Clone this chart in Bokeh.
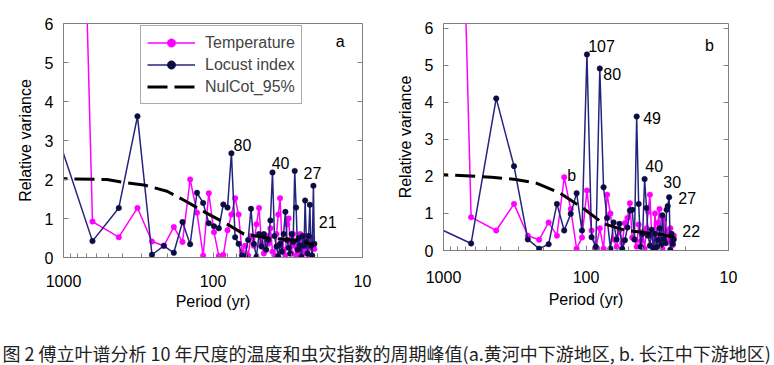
from bokeh.plotting import figure
from bokeh.models import (Range1d, LinearAxis, FixedTicker, NumeralTickFormatter,
                          Legend, LegendItem, ColumnDataSource)
from bokeh.layouts import row, column
from bokeh.embed import file_html
from bokeh.resources import INLINE
from bokeh.core.properties import value

# ---------------- data ----------------
# Fourier periods (yr) of harmonics k = 1 .. 61
period = [1280, 640, 426.7, 320, 256, 213.3, 182.9, 160, 142.2, 128, 116.4, 106.7,
          98.5, 91.4, 85.3, 80, 75.3, 71.1, 67.4, 64, 61.0, 58.2, 55.7, 53.3, 51.2,
          49.2, 47.4, 45.7, 44.1, 42.7, 41.3, 40, 38.8, 37.6, 36.6, 35.6, 34.6, 33.7,
          32.8, 32, 31.2, 30.5, 29.8, 29.1, 28.4, 27.8, 27.2, 26.7, 26.1, 25.6, 25.1,
          24.6, 24.2, 23.7, 23.3, 22.9, 22.5, 22.1, 21.7, 21.3, 21.0]

# panel a (Yellow River)
temp_a = [45.0, 0.92, 0.52, 1.27, 0.41, 0.30, 0.78, 0.40, 2.00, 1.15, 0.05, 1.65,
          0.65, 0.04, 0.07, 0.70, 1.10, 1.52, 1.10, 0.15, 0.30, 0.05, 0.55, 0.30,
          0.85, 1.27, 0.35, 0.10, 0.55, 0.35, 0.75, 0.15, 0.05, 0.60, 1.10, 1.52,
          0.45, 0.20, 0.05, 0.85, 1.00, 0.40, 0.10, 0.60, 0.30, 0.05, 0.45, 0.15,
          0.60, 0.35, 0.10, 0.50, 0.20, 0.55, 0.30, 0.05, 0.45, 0.25, 0.50, 0.30, 0.22]
locust_a = [3.90, 0.42, 1.27, 3.62, 0.07, 0.30, 0.12, 0.91, 0.34, 1.66, 1.40, 0.88,
            0.80, 0.75, 1.36, 1.28, 2.67, 0.52, 0.35, 0.05, 0.03, 0.45, 1.25, 0.35,
            0.02, 0.60, 0.28, 0.60, 0.20, 0.45, 0.95, 2.18, 0.55, 0.28, 0.03, 0.35,
            0.15, 0.60, 1.17, 0.45, 0.25, 0.10, 0.60, 0.40, 2.22, 1.28, 0.20, 0.50,
            0.30, 0.02, 0.55, 0.30, 1.46, 0.40, 0.10, 0.55, 1.35, 0.30, 0.05, 1.84, 0.35]
nul_period_a = [1280, 1000, 512, 400, 283, 203, 153, 112, 80, 62, 43, 29, 21]
nul_a = [2.02, 2.02, 2.00, 1.93, 1.85, 1.70, 1.45, 1.15, 0.85, 0.60, 0.50, 0.45, 0.33]

# panel b (Yangtze River), harmonics k = 1 .. 53
temp_b = [45.0, 0.90, 0.54, 1.26, 0.40, 0.29, 0.76, 0.40, 1.98, 1.12, 0.05, 0.35,
          1.62, 0.54, 0.05, 0.60, 0.05, 1.51, 1.00, 0.30, 0.10, 0.55, 0.20, 0.74,
          0.88, 1.28, 0.35, 0.30, 0.10, 0.70, 0.25, 0.50, 0.05, 0.60, 1.05, 1.51,
          0.40, 0.15, 1.00, 0.30, 0.75, 1.12, 0.35, 0.05, 0.85, 0.50, 0.20, 0.54,
          0.25, 0.60, 0.35, 0.15, 0.40]
locust_b = [0.73, 0.19, 4.11, 2.28, 0.30, 0.05, 0.17, 1.26, 0.54, 0.99, 1.55, 0.54,
            5.30, 0.36, 0.10, 4.92, 1.71, 0.88, 0.05, 0.76, 0.30, 0.72, 0.05, 0.28,
            0.62, 1.08, 1.10, 0.30, 3.62, 1.26, 0.10, 0.45, 1.93, 1.15, 0.40, 0.13,
            0.56, 0.05, 0.45, 0.09, 0.28, 0.60, 0.15, 0.95, 0.30, 0.20, 1.10, 1.20,
            1.44, 0.02, 0.45, 0.18, 0.30]
nul_period_b = [1280, 1000, 460, 312, 223, 152, 103, 75, 52, 38, 30, 24]
nul_b = [2.07, 2.05, 1.98, 1.92, 1.82, 1.55, 1.12, 0.72, 0.54, 0.48, 0.44, 0.36]

# peak labels (text, period, value)
lab_a_text = ["80", "40", "27", "21", "a"]
lab_a_period = [72.8, 40.5, 24.8, 19.6, 15.1]
lab_a_value = [2.89, 2.43, 2.17, 0.90, 5.53]
lab_b_text = ["107", "80", "49", "40", "30", "27", "22", "b", "b"]
lab_b_period = [96.5, 75.7, 39.7, 38.4, 28.7, 22.5, 21.1, 135.5, 14.6]
lab_b_value = [5.53, 4.78, 3.59, 2.29, 1.86, 1.43, 0.54, 2.02, 5.53]

series_names = ["Temperature", "Locust index", "NulCot_95%"]
x_ticks = [10, 100, 1000]
x_minor = [20, 30, 40, 50, 60, 70, 80, 90, 200, 300, 400, 500, 600, 700, 800, 900]
y_ticks = [0, 1, 2, 3, 4, 5, 6]
caption = "图 2  傅立叶谱分析 10 年尺度的温度和虫灾指数的周期峰值(a.黄河中下游地区, b. 长江中下游地区)"

FONT = "Liberation Sans"
GRAY = "#808080"
PINK = "#ff00ff"
NAVY_LINE = "#24247e"
NAVY_MARK = "#0c0c45"


def panel(n, temp, locust, nul_p, nul_v, lt, lp, lv, fw, fh, ytop, bl, br, bt, bb,
          xstand, xlstand, with_legend):
    p = figure(x_axis_type="log", x_range=Range1d(1000, 10),
               y_range=Range1d(0, ytop),
               frame_width=fw, frame_height=fh, min_border_left=bl,
               min_border_right=br, min_border_top=bt, min_border_bottom=bb,
               toolbar_location=None, output_backend="svg")
    p.grid.visible = False
    p.outline_line_color = GRAY
    p.outline_line_width = 1
    p.background_fill_color = "white"

    xa = p.xaxis[0]
    xa.ticker = FixedTicker(ticks=x_ticks, minor_ticks=x_minor)
    xa.formatter = NumeralTickFormatter(format="0")
    xa.axis_label = "Period (yr)"
    ya = p.yaxis[0]
    ya.ticker = FixedTicker(ticks=y_ticks)
    ya.axis_label = "Relative variance"
    for ax in (xa, ya):
        ax.axis_line_color = GRAY
        ax.major_tick_line_color = GRAY
        ax.minor_tick_line_color = GRAY
        ax.major_tick_in = 5
        ax.major_tick_out = 0
        ax.minor_tick_in = 4
        ax.minor_tick_out = 0
        ax.major_label_text_font = FONT
        ax.major_label_text_font_size = "16px"
        ax.major_label_text_color = "black"
        ax.axis_label_text_font = FONT
        ax.axis_label_text_font_size = "16px"
        ax.axis_label_text_font_style = "normal"
        ax.axis_label_text_color = "black"
    ya.minor_tick_line_color = None
    ya.major_label_standoff = 10
    ya.axis_label_standoff = 8
    xa.major_label_standoff = xstand
    xa.axis_label_standoff = xlstand

    ra = LinearAxis(ticker=FixedTicker(ticks=y_ticks),
                    major_label_overrides={t: "" for t in y_ticks},
                    axis_line_color=None, major_tick_line_color=GRAY,
                    major_tick_in=5, major_tick_out=0, minor_tick_line_color=None,
                    major_label_standoff=0)
    p.add_layout(ra, "right")

    tl = p.line(period[:n], temp, line_color=PINK, line_width=1.5)
    ts = p.scatter(period[:n], temp, marker="circle", size=5.5, fill_color=PINK,
                   line_color=PINK, line_width=0.5)
    ll = p.line(period[:n], locust, line_color=NAVY_LINE, line_width=1.5)
    ls = p.scatter(period[:n], locust, marker="circle", size=5.5,
                   fill_color=NAVY_MARK, line_color=NAVY_MARK, line_width=0.5)
    nl = p.line(nul_p, nul_v, line_color="black", line_width=3, line_dash="20 7")

    src = ColumnDataSource(dict(x=lp, y=lv, t=lt))
    p.text(x="x", y="y", text="t", source=src, text_font=value(FONT),
           text_font_size="16px", text_color="black", text_baseline="middle",
           text_align="left")

    if with_legend:
        leg = Legend(items=[LegendItem(label=series_names[0], renderers=[tl, ts]),
                            LegendItem(label=series_names[1], renderers=[ll, ls]),
                            LegendItem(label=series_names[2], renderers=[nl])],
                     location=(77, 153), padding=6, spacing=1, margin=0,
                     glyph_width=48, glyph_height=21, label_height=21,
                     label_standoff=10, label_text_font=FONT,
                     label_text_font_size="16px", border_line_color="#555555",
                     border_line_width=1, background_fill_color="white",
                     background_fill_alpha=1)
        p.add_layout(leg)
    return p


pa = panel(len(temp_a), temp_a, locust_a, nul_period_a, nul_a,
           lab_a_text, lab_a_period, lab_a_value,
           299, 234, 6, 63, 18, 23, 63, 17, 3, True)
pb = panel(len(temp_b), temp_b, locust_b, nul_period_b, nul_b,
           lab_b_text, lab_b_period, lab_b_value,
           285, 227, 6.135, 63, 44, 23, 70, 20, 5, False)

cap = figure(width=772, height=45, x_range=Range1d(0, 772), y_range=Range1d(0, 45),
             toolbar_location=None, output_backend="svg", min_border=0,
             x_axis_location=None, y_axis_location=None)
cap.grid.visible = False
cap.outline_line_color = None
cap.text(x=[2], y=[13], text=[caption], text_font=value("Noto Sans CJK SC"),
         text_font_size="18px", text_color="#222222", text_baseline="middle",
         text_align="left")

layout = column(row(pa, pb), cap)
open("out.html", "w").write(file_html(layout, INLINE))
